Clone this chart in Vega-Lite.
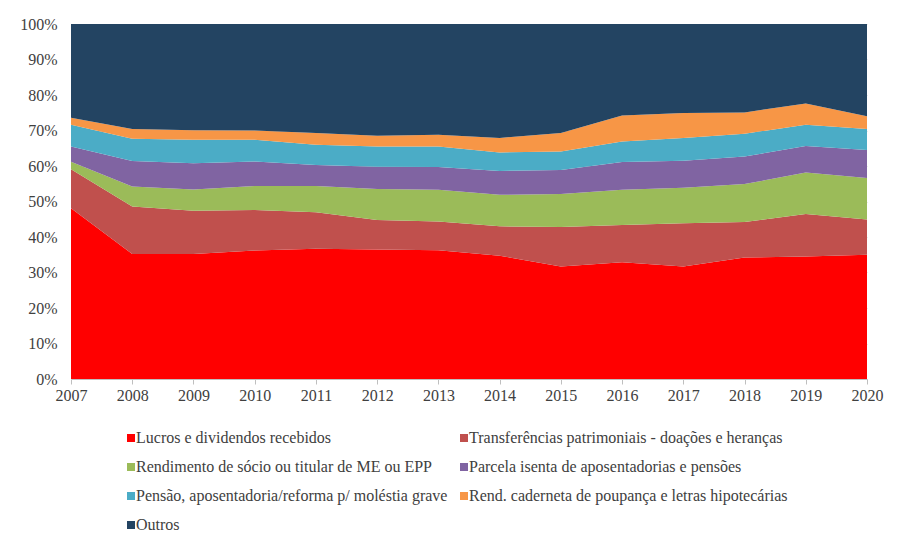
{
  "$schema": "https://vega.github.io/schema/vega-lite/v6.json",
  "width": 796,
  "height": 355,
  "padding": {"left": 19, "top": 16, "right": 20, "bottom": 10},
  "background": "white",
  "config": {
    "font": "Liberation Serif, Times New Roman, serif",
    "view": {"stroke": null},
    "legend": {"labelFont": "Liberation Serif, Times New Roman, serif"}
  },
  "datasets": {
    "ordem": [
      {"serie": "Lucros e dividendos recebidos", "rank": 1},
      {"serie": "Transferências patrimoniais - doações e heranças", "rank": 2},
      {"serie": "Rendimento de sócio ou titular de ME ou EPP", "rank": 3},
      {"serie": "Parcela isenta de aposentadorias e pensões", "rank": 4},
      {"serie": "Pensão, aposentadoria/reforma p/ moléstia grave", "rank": 5},
      {"serie": "Rend. caderneta de poupança e letras hipotecárias", "rank": 6},
      {"serie": "Outros", "rank": 7}
    ],
    "d": [
      {"ano": 2007, "serie": "Lucros e dividendos recebidos", "v": 48.1},
      {"ano": 2007, "serie": "Transferências patrimoniais - doações e heranças", "v": 11.0},
      {"ano": 2007, "serie": "Rendimento de sócio ou titular de ME ou EPP", "v": 2.1},
      {"ano": 2007, "serie": "Parcela isenta de aposentadorias e pensões", "v": 4.3},
      {"ano": 2007, "serie": "Pensão, aposentadoria/reforma p/ moléstia grave", "v": 6.1},
      {"ano": 2007, "serie": "Rend. caderneta de poupança e letras hipotecárias", "v": 2.0},
      {"ano": 2007, "serie": "Outros", "v": 26.4},
      {"ano": 2008, "serie": "Lucros e dividendos recebidos", "v": 35.2},
      {"ano": 2008, "serie": "Transferências patrimoniais - doações e heranças", "v": 13.4},
      {"ano": 2008, "serie": "Rendimento de sócio ou titular de ME ou EPP", "v": 5.6},
      {"ano": 2008, "serie": "Parcela isenta de aposentadorias e pensões", "v": 7.2},
      {"ano": 2008, "serie": "Pensão, aposentadoria/reforma p/ moléstia grave", "v": 6.3},
      {"ano": 2008, "serie": "Rend. caderneta de poupança e letras hipotecárias", "v": 2.7},
      {"ano": 2008, "serie": "Outros", "v": 29.6},
      {"ano": 2009, "serie": "Lucros e dividendos recebidos", "v": 35.2},
      {"ano": 2009, "serie": "Transferências patrimoniais - doações e heranças", "v": 12.2},
      {"ano": 2009, "serie": "Rendimento de sócio ou titular de ME ou EPP", "v": 6.0},
      {"ano": 2009, "serie": "Parcela isenta de aposentadorias e pensões", "v": 7.4},
      {"ano": 2009, "serie": "Pensão, aposentadoria/reforma p/ moléstia grave", "v": 6.6},
      {"ano": 2009, "serie": "Rend. caderneta de poupança e letras hipotecárias", "v": 2.7},
      {"ano": 2009, "serie": "Outros", "v": 29.9},
      {"ano": 2010, "serie": "Lucros e dividendos recebidos", "v": 36.2},
      {"ano": 2010, "serie": "Transferências patrimoniais - doações e heranças", "v": 11.4},
      {"ano": 2010, "serie": "Rendimento de sócio ou titular de ME ou EPP", "v": 6.8},
      {"ano": 2010, "serie": "Parcela isenta de aposentadorias e pensões", "v": 6.9},
      {"ano": 2010, "serie": "Pensão, aposentadoria/reforma p/ moléstia grave", "v": 6.1},
      {"ano": 2010, "serie": "Rend. caderneta de poupança e letras hipotecárias", "v": 2.6},
      {"ano": 2010, "serie": "Outros", "v": 30.0},
      {"ano": 2011, "serie": "Lucros e dividendos recebidos", "v": 36.7},
      {"ano": 2011, "serie": "Transferências patrimoniais - doações e heranças", "v": 10.3},
      {"ano": 2011, "serie": "Rendimento de sócio ou titular de ME ou EPP", "v": 7.4},
      {"ano": 2011, "serie": "Parcela isenta de aposentadorias e pensões", "v": 5.9},
      {"ano": 2011, "serie": "Pensão, aposentadoria/reforma p/ moléstia grave", "v": 5.7},
      {"ano": 2011, "serie": "Rend. caderneta de poupança e letras hipotecárias", "v": 3.3},
      {"ano": 2011, "serie": "Outros", "v": 30.7},
      {"ano": 2012, "serie": "Lucros e dividendos recebidos", "v": 36.5},
      {"ano": 2012, "serie": "Transferências patrimoniais - doações e heranças", "v": 8.3},
      {"ano": 2012, "serie": "Rendimento de sócio ou titular de ME ou EPP", "v": 8.7},
      {"ano": 2012, "serie": "Parcela isenta de aposentadorias e pensões", "v": 6.3},
      {"ano": 2012, "serie": "Pensão, aposentadoria/reforma p/ moléstia grave", "v": 5.7},
      {"ano": 2012, "serie": "Rend. caderneta de poupança e letras hipotecárias", "v": 3.0},
      {"ano": 2012, "serie": "Outros", "v": 31.5},
      {"ano": 2013, "serie": "Lucros e dividendos recebidos", "v": 36.3},
      {"ano": 2013, "serie": "Transferências patrimoniais - doações e heranças", "v": 8.1},
      {"ano": 2013, "serie": "Rendimento de sócio ou titular de ME ou EPP", "v": 8.9},
      {"ano": 2013, "serie": "Parcela isenta de aposentadorias e pensões", "v": 6.4},
      {"ano": 2013, "serie": "Pensão, aposentadoria/reforma p/ moléstia grave", "v": 5.8},
      {"ano": 2013, "serie": "Rend. caderneta de poupança e letras hipotecárias", "v": 3.3},
      {"ano": 2013, "serie": "Outros", "v": 31.2},
      {"ano": 2014, "serie": "Lucros e dividendos recebidos", "v": 34.7},
      {"ano": 2014, "serie": "Transferências patrimoniais - doações e heranças", "v": 8.3},
      {"ano": 2014, "serie": "Rendimento de sócio ou titular de ME ou EPP", "v": 8.9},
      {"ano": 2014, "serie": "Parcela isenta de aposentadorias e pensões", "v": 6.7},
      {"ano": 2014, "serie": "Pensão, aposentadoria/reforma p/ moléstia grave", "v": 5.2},
      {"ano": 2014, "serie": "Rend. caderneta de poupança e letras hipotecárias", "v": 4.1},
      {"ano": 2014, "serie": "Outros", "v": 32.1},
      {"ano": 2015, "serie": "Lucros e dividendos recebidos", "v": 31.7},
      {"ano": 2015, "serie": "Transferências patrimoniais - doações e heranças", "v": 11.1},
      {"ano": 2015, "serie": "Rendimento de sócio ou titular de ME ou EPP", "v": 9.3},
      {"ano": 2015, "serie": "Parcela isenta de aposentadorias e pensões", "v": 6.8},
      {"ano": 2015, "serie": "Pensão, aposentadoria/reforma p/ moléstia grave", "v": 5.2},
      {"ano": 2015, "serie": "Rend. caderneta de poupança e letras hipotecárias", "v": 5.2},
      {"ano": 2015, "serie": "Outros", "v": 30.7},
      {"ano": 2016, "serie": "Lucros e dividendos recebidos", "v": 32.9},
      {"ano": 2016, "serie": "Transferências patrimoniais - doações e heranças", "v": 10.5},
      {"ano": 2016, "serie": "Rendimento de sócio ou titular de ME ou EPP", "v": 9.9},
      {"ano": 2016, "serie": "Parcela isenta de aposentadorias e pensões", "v": 7.8},
      {"ano": 2016, "serie": "Pensão, aposentadoria/reforma p/ moléstia grave", "v": 5.8},
      {"ano": 2016, "serie": "Rend. caderneta de poupança e letras hipotecárias", "v": 7.3},
      {"ano": 2016, "serie": "Outros", "v": 25.8},
      {"ano": 2017, "serie": "Lucros e dividendos recebidos", "v": 31.7},
      {"ano": 2017, "serie": "Transferências patrimoniais - doações e heranças", "v": 12.2},
      {"ano": 2017, "serie": "Rendimento de sócio ou titular de ME ou EPP", "v": 10.0},
      {"ano": 2017, "serie": "Parcela isenta de aposentadorias e pensões", "v": 7.6},
      {"ano": 2017, "serie": "Pensão, aposentadoria/reforma p/ moléstia grave", "v": 6.4},
      {"ano": 2017, "serie": "Rend. caderneta de poupança e letras hipotecárias", "v": 7.0},
      {"ano": 2017, "serie": "Outros", "v": 25.1},
      {"ano": 2018, "serie": "Lucros e dividendos recebidos", "v": 34.2},
      {"ano": 2018, "serie": "Transferências patrimoniais - doações e heranças", "v": 10.0},
      {"ano": 2018, "serie": "Rendimento de sócio ou titular de ME ou EPP", "v": 10.7},
      {"ano": 2018, "serie": "Parcela isenta de aposentadorias e pensões", "v": 7.8},
      {"ano": 2018, "serie": "Pensão, aposentadoria/reforma p/ moléstia grave", "v": 6.4},
      {"ano": 2018, "serie": "Rend. caderneta de poupança e letras hipotecárias", "v": 6.0},
      {"ano": 2018, "serie": "Outros", "v": 24.9},
      {"ano": 2019, "serie": "Lucros e dividendos recebidos", "v": 34.5},
      {"ano": 2019, "serie": "Transferências patrimoniais - doações e heranças", "v": 12.0},
      {"ano": 2019, "serie": "Rendimento de sócio ou titular de ME ou EPP", "v": 11.7},
      {"ano": 2019, "serie": "Parcela isenta de aposentadorias e pensões", "v": 7.4},
      {"ano": 2019, "serie": "Pensão, aposentadoria/reforma p/ moléstia grave", "v": 6.0},
      {"ano": 2019, "serie": "Rend. caderneta de poupança e letras hipotecárias", "v": 6.0},
      {"ano": 2019, "serie": "Outros", "v": 22.4},
      {"ano": 2020, "serie": "Lucros e dividendos recebidos", "v": 35.0},
      {"ano": 2020, "serie": "Transferências patrimoniais - doações e heranças", "v": 9.9},
      {"ano": 2020, "serie": "Rendimento de sócio ou titular de ME ou EPP", "v": 11.7},
      {"ano": 2020, "serie": "Parcela isenta de aposentadorias e pensões", "v": 7.9},
      {"ano": 2020, "serie": "Pensão, aposentadoria/reforma p/ moléstia grave", "v": 5.9},
      {"ano": 2020, "serie": "Rend. caderneta de poupança e letras hipotecárias", "v": 3.6},
      {"ano": 2020, "serie": "Outros", "v": 26.0}
    ]
  },
  "data": {"name": "d"},
  "transform": [
    {"lookup": "serie", "from": {"data": {"name": "ordem"}, "key": "serie", "fields": ["rank"]}}
  ],
  "mark": {"type": "area", "interpolate": "linear"},
  "encoding": {
    "x": {
      "field": "ano",
      "type": "quantitative",
      "scale": {"domain": [2007, 2020], "nice": false, "zero": false},
      "axis": {
        "title": null,
        "values": [2007, 2008, 2009, 2010, 2011, 2012, 2013, 2014, 2015, 2016, 2017, 2018, 2019, 2020],
        "format": "d",
        "grid": false,
        "domainColor": "#BFBFBF",
        "tickColor": "#BFBFBF",
        "tickSize": 5,
        "labelFont": "Liberation Serif, Times New Roman, serif",
        "labelFontSize": 16,
        "labelColor": "#404040",
        "labelPadding": 3,
        "labelFlush": false
      }
    },
    "y": {
      "field": "v",
      "type": "quantitative",
      "stack": "normalize",
      "scale": {"domain": [0, 1], "nice": false},
      "axis": {
        "title": null,
        "values": [0, 0.1, 0.2, 0.3, 0.4, 0.5, 0.6, 0.7, 0.8, 0.9, 1],
        "format": ".0%",
        "domain": false,
        "ticks": false,
        "grid": true,
        "gridColor": "#D9D9D9",
        "labelFont": "Liberation Serif, Times New Roman, serif",
        "labelFontSize": 16,
        "labelColor": "#404040",
        "labelPadding": 14
      }
    },
    "order": {"field": "rank", "type": "quantitative", "sort": "ascending"},
    "color": {
      "field": "serie",
      "type": "nominal",
      "scale": {
        "domain": [
          "Lucros e dividendos recebidos",
          "Rendimento de sócio ou titular de ME ou EPP",
          "Pensão, aposentadoria/reforma p/ moléstia grave",
          "Outros",
          "Transferências patrimoniais - doações e heranças",
          "Parcela isenta de aposentadorias e pensões",
          "Rend. caderneta de poupança e letras hipotecárias"
        ],
        "range": ["#FF0000", "#9BBB59", "#4BACC6", "#234462", "#C0504D", "#8064A2", "#F79646"]
      },
      "legend": {
        "title": null,
        "orient": "none",
        "legendX": 52,
        "legendY": 406,
        "columns": 2,
        "columnPadding": 8,
        "rowPadding": 13,
        "symbolType": "square",
        "symbolSize": 64,
        "symbolStrokeWidth": 0,
        "symbolOffset": 0,
        "labelOffset": -3,
        "labelFont": "Liberation Serif",
        "labelFontSize": 16,
        "labelColor": "#404040",
        "labelLimit": 400
      }
    }
  }
}
